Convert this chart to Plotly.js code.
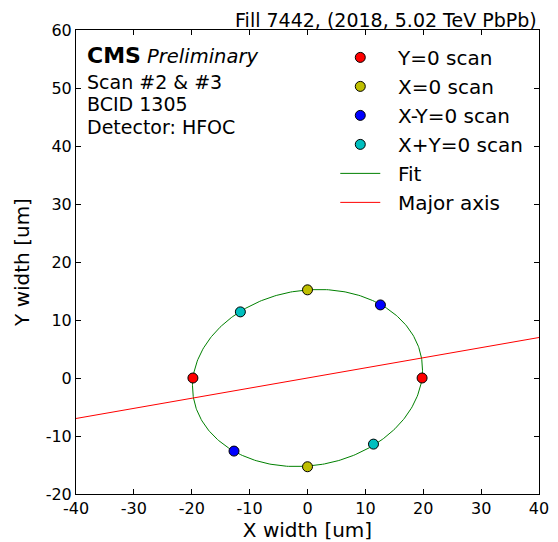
<!DOCTYPE html>
<html>
<head>
<meta charset="utf-8">
<script src="https://cdn.plot.ly/plotly-3.0.1.min.js"></script>
<style>
html,body{margin:0;padding:0;background:#fff;}
#chart{width:558px;height:542px;}
</style>
</head>
<body>
<div id="chart"></div>
<script>
// Scan points (um)
const y0ScanX = [-19.8, 19.8];
const y0ScanY = [0.0, 0.0];
const x0ScanX = [0.0, 0.0];
const x0ScanY = [15.2, -15.3];
const xmyScanX = [12.6, -12.7];
const xmyScanY = [12.6, -12.6];
const xpyScanX = [-11.6, 11.4];
const xpyScanY = [11.4, -11.4];

// Fit parameters (ellipse semi-axes in um, rotation in degrees)
const fitMajor = 20.0;
const fitMinor = 15.1;
const fitAngleDeg = 9.9;
const majorAxisXRange = [-40, 40];

// Legend / text labels
const seriesNames = ['Y=0 scan', 'X=0 scan', 'X-Y=0 scan', 'X+Y=0 scan', 'Fit', 'Major axis'];
const infoLines = ['Scan #2 &amp; #3', 'BCID 1305', 'Detector: HFOC'];

// Axis ticks
const xTickVals = [-40, -30, -20, -10, 0, 10, 20, 30, 40];
const xTickText = ['-40', '-30', '-20', '-10', '0', '10', '20', '30', '40'];
const yTickVals = [-20, -10, 0, 10, 20, 30, 40, 50, 60];
const yTickText = ['-20', '-10', '0', '10', '20', '30', '40', '50', '60'];

// Build the fit ellipse from its parameters
const th = fitAngleDeg * Math.PI / 180;
const ellX = [], ellY = [];
const N = 360;
for (let i = 0; i <= N; i++) {
  const t = 2 * Math.PI * i / N;
  const u = fitMajor * Math.cos(t), v = fitMinor * Math.sin(t);
  ellX.push(u * Math.cos(th) - v * Math.sin(th));
  ellY.push(u * Math.sin(th) + v * Math.cos(th));
}
const axX = majorAxisXRange.slice();
const axY = axX.map(x => x * Math.tan(th));

const FONT = 'DejaVu Sans, sans-serif';
const PAD = '\u00a0\u00a0';
const mk = (c) => ({size: 10, color: c, line: {color: '#000', width: 1}});

const traces = [
  {x: ellX, y: ellY, mode: 'lines', name: PAD + seriesNames[4], line: {color: '#008000', width: 1}, legendrank: 5},
  {x: axX, y: axY, mode: 'lines', name: PAD + seriesNames[5], line: {color: '#ff0000', width: 1}, legendrank: 6},
  {x: y0ScanX, y: y0ScanY, mode: 'markers', name: PAD + seriesNames[0], marker: mk('#ff0000'), legendrank: 1},
  {x: x0ScanX, y: x0ScanY, mode: 'markers', name: PAD + seriesNames[1], marker: mk('#bfbf00'), legendrank: 2},
  {x: xmyScanX, y: xmyScanY, mode: 'markers', name: PAD + seriesNames[2], marker: mk('#0000ff'), legendrank: 3},
  {x: xpyScanX, y: xpyScanY, mode: 'markers', name: PAD + seriesNames[3], marker: mk('#00bfbf'), legendrank: 4}
];

const axisCommon = {
  showline: true, linecolor: '#000', linewidth: 1, mirror: 'ticks',
  ticks: 'inside', ticklen: 5, tickcolor: '#000', tickwidth: 1,
  showgrid: false, zeroline: false,
  tickfont: {family: FONT, size: 16, color: '#000'}
};

// pixel -> paper helpers (plot area: x 76..539, y 30..494)
const py = (p) => (494 - p) / 464;

const ann = (txt, yPix, size) => ({
  xref: 'paper', yref: 'paper', x: 0.019, y: py(yPix), xanchor: 'left', yanchor: 'middle',
  align: 'left', showarrow: false, text: txt,
  font: {family: FONT, size: size, color: '#000'}
});

const layout = {
  width: 558, height: 542,
  margin: {l: 76, r: 19, t: 30, b: 48},
  paper_bgcolor: '#fff', plot_bgcolor: '#fff',
  font: {family: FONT, color: '#000'},
  title: {text: 'Fill 7442, (2018, 5.02 TeV PbPb)', font: {family: FONT, size: 19, color: '#000'},
          x: 0.995, xref: 'paper', xanchor: 'right', y: 1, yref: 'paper', yanchor: 'bottom', pad: {b: 3}},
  xaxis: Object.assign({}, axisCommon, {
    range: [-40, 40], tickmode: 'array', tickvals: xTickVals, ticktext: xTickText,
    title: {text: 'X width [um]', font: {family: FONT, size: 20, color: '#000'}, standoff: 4}
  }),
  yaxis: Object.assign({}, axisCommon, {
    range: [-20, 60], tickmode: 'array', tickvals: yTickVals, ticktext: yTickText,
    title: {text: 'Y width [um]', font: {family: FONT, size: 20, color: '#000'}, standoff: 10}
  }),
  showlegend: true,
  legend: {
    x: 0.56, y: 0.983, xanchor: 'left', yanchor: 'top',
    bgcolor: 'rgba(0,0,0,0)', borderwidth: 0,
    font: {family: FONT, size: 20, color: '#000'},
    itemwidth: 40, traceorder: 'normal'
  },
  annotations: [
    ann('<span style="font-size:22px"><b>CMS</b></span> <i>Preliminary</i>', 55, 19.5),
    ann(infoLines[0], 81.5, 19),
    ann(infoLines[1], 103.5, 19),
    ann(infoLines[2], 127, 19)
  ]
};

Plotly.newPlot('chart', traces, layout, {displayModeBar: false, staticPlot: true});
</script>
</body>
</html>
